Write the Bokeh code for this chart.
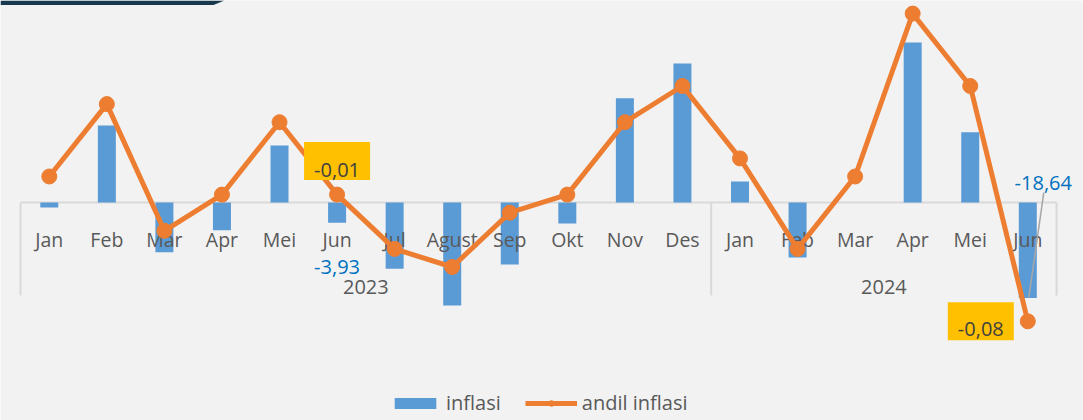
from bokeh.plotting import figure
from bokeh.models import Range1d, Legend, LegendItem
from bokeh.core.properties import value
from bokeh.embed import file_html
from bokeh.resources import INLINE

# ---- data -------------------------------------------------------------
months = ["Jan", "Feb", "Mar", "Apr", "Mei", "Jun", "Jul", "Agust", "Sep",
          "Okt", "Nov", "Des", "Jan", "Feb", "Mar", "Apr", "Mei", "Jun"]
years = ["2023", "2024"]
months_per_year = [12, 6]
inflasi = [-0.97, 15.0, -9.7, -5.4, 11.1, -3.93, -12.9, -20.1, -12.1,
           -4.1, 20.3, 27.1, 4.1, -10.7, 0.0, 31.2, 13.7, -18.64]
andil = [0.00, 0.04, -0.03, -0.01, 0.03, -0.01, -0.04, -0.05, -0.02,
         -0.01, 0.03, 0.05, 0.01, -0.04, 0.00, 0.09, 0.05, -0.08]
labelled = [5, 17]          # points whose values are printed

# ---- layout constants ---------------------------------------------------
W, H = 1083, 420
BG = "#f2f2f2"
BLUE = "#5b9bd5"
ORANGE = "#ed7d31"
GRID = "#d9d9d9"
TXT = "#595959"
FONT_NAME = "Open Sans"
FONT = value(FONT_NAME)

CAT_PX = 57.56            # pixels per category
LEFT_PX = 20              # canvas x of first category boundary
ZERO_BAR_PX = 202         # canvas y of bar zero line
BAR_PX = 5.13             # pixels per bar unit
ZERO_LINE_PX = 176        # canvas y of andil zero
LINE_PX = 1810.0          # pixels per andil unit

n = len(months)
xs = list(range(n))
x0 = -0.5 - LEFT_PX / CAT_PX
x1 = x0 + W / CAT_PX
yb_top = ZERO_BAR_PX / BAR_PX
yb_bot = -(H - ZERO_BAR_PX) / BAR_PX
yl_top = ZERO_LINE_PX / LINE_PX
yl_bot = -(H - ZERO_LINE_PX) / LINE_PX


def bar_dy(px):
    return px / BAR_PX


def line_dy(px):
    return px / LINE_PX


def dx(px):
    return px / CAT_PX


p = figure(width=W, height=H, output_backend="svg", toolbar_location=None,
           x_range=Range1d(x0, x1), y_range=Range1d(yb_bot, yb_top),
           min_border_left=0, min_border_right=0, min_border_top=0,
           min_border_bottom=0)
p.extra_y_ranges = {"andil": Range1d(yl_bot, yl_top)}
p.background_fill_color = BG
p.border_fill_color = BG
p.outline_line_color = None
p.xgrid.visible = False
p.ygrid.visible = False
p.xaxis.visible = False
p.yaxis.visible = False

# decorative header band at the top-left corner
p.patch(x=[x0, x0 + dx(224), x0 + dx(213), x0],
        y=[yb_top, yb_top, yb_top - bar_dy(4.5), yb_top - bar_dy(4.5)],
        fill_color="#17384d", line_color=None)

# category axis line and separators
first_b = -0.5
last_b = n - 0.5
p.segment(x0=[first_b], y0=[0], x1=[last_b], y1=[0], line_color=GRID, line_width=2)
bounds = [first_b]
acc = first_b
for m in months_per_year:
    acc += m
    bounds.append(acc)
p.segment(x0=bounds, y0=[0] * len(bounds), x1=bounds,
          y1=[-bar_dy(93)] * len(bounds), line_color=GRID, line_width=2)

# bars
bars = p.vbar(x=xs, top=inflasi, bottom=0, width=dx(18),
              fill_color=BLUE, line_color=None)

# month labels
p.text(x=xs, y=[-bar_dy(36.7)] * n, text=months, text_align="center",
       text_baseline="alphabetic", text_font=FONT, text_font_size="19.5px",
       text_color=TXT)
# year labels
centers = []
start = first_b
for m in months_per_year:
    centers.append(start + m / 2)
    start += m
p.text(x=centers, y=[-bar_dy(84.7)] * len(years), text=years, text_align="center",
       text_baseline="alphabetic", text_font=FONT, text_font_size="20px",
       text_color=TXT)

# line
ln = p.line(x=xs, y=andil, y_range_name="andil", line_color=ORANGE, line_width=5)
mk = p.scatter(x=xs, y=andil, y_range_name="andil", size=15, marker="circle",
               fill_color=ORANGE, line_color=ORANGE)


def fmt(v):
    return f"{v:.2f}".replace(".", ",")


# bar data labels (blue)
i = labelled[0]
p.text(x=[xs[i]], y=[inflasi[i] - bar_dy(44)], text=[fmt(inflasi[i])],
       text_align="center", text_baseline="alphabetic", text_font=FONT,
       text_font_size="20px", text_color="#0070c0")
j = labelled[1]
lx = xs[j] + dx(15.5)
ly = inflasi[j] + bar_dy(115)
p.segment(x0=[xs[j] + dx(16)], y0=[inflasi[j] + bar_dy(105.5)],
          x1=[xs[j] + dx(1)], y1=[inflasi[j] + bar_dy(0.5)],
          line_color="#a6a6a6", line_width=1.5)
p.text(x=[lx], y=[ly], text=[fmt(inflasi[j])], text_align="center",
       text_baseline="alphabetic", text_font=FONT, text_font_size="20px",
       text_color="#0070c0")

# andil data labels (yellow boxes)
box_x = [xs[i], xs[j] - dx(47)]
box_y = [andil[i] + line_dy(33.6), andil[j]]
txt_y = [andil[i] + line_dy(24.8), andil[j] - line_dy(7.5)]
p.rect(x=box_x, y=box_y, width=66, height=38, width_units="screen",
       height_units="screen", y_range_name="andil", fill_color="#ffc000",
       line_color=None)
p.text(x=box_x, y=txt_y, text=[fmt(andil[i]), fmt(andil[j])],
       y_range_name="andil", text_align="center", text_baseline="alphabetic",
       text_font=FONT, text_font_size="20px", text_color="#404040")

legend = Legend(items=[LegendItem(label="inflasi", renderers=[bars]),
                       LegendItem(label="andil inflasi", renderers=[ln, mk])],
                orientation="horizontal", location=(389, 4),
                background_fill_alpha=0, border_line_color=None,
                label_text_font=FONT_NAME, label_text_font_size="20px",
                label_text_color=TXT, glyph_width=52, glyph_height=14,
                label_standoff=5, spacing=24, padding=0, margin=0)
p.add_layout(legend, "center")

open("out.html", "w").write(file_html(p, INLINE))
